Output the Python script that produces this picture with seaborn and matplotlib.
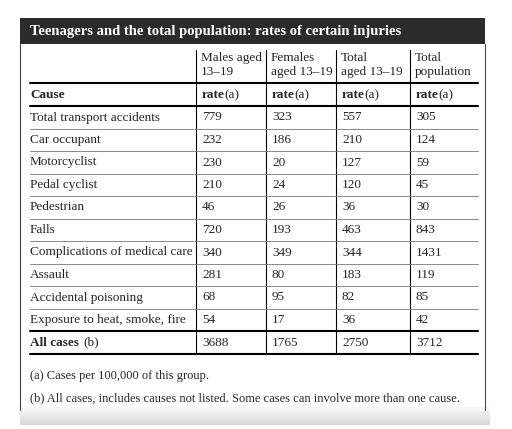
import matplotlib
matplotlib.use("Agg")
import matplotlib.pyplot as plt
import seaborn as sns
import numpy as np

sns.set_theme(style="white")
plt.rcParams['font.family'] = ['Liberation Serif', 'DejaVu Serif']

title = "Teenagers and the total population: rates of certain injuries"
col_heads = [["Males aged", "13–19"], ["Females", "aged 13–19"], ["Total", "aged 13–19"], ["Total", "population"]]
causes = ["Total transport accidents", "Car occupant", "Motorcyclist", "Pedal cyclist", "Pedestrian",
          "Falls", "Complications of medical care", "Assault", "Accidental poisoning",
          "Exposure to heat, smoke, fire"]
males = [779, 232, 230, 210, 46, 720, 340, 281, 68, 54]
females = [323, 186, 20, 24, 26, 193, 349, 80, 95, 17]
total_teen = [557, 210, 127, 120, 36, 463, 344, 183, 82, 36]
total_pop = [305, 124, 59, 45, 30, 843, 1431, 119, 85, 42]
all_cases = [3688, 1765, 2750, 3712]
notes = ["(a) Cases per 100,000 of this group.",
         "(b) All cases, includes causes not listed. Some cases can involve more than one cause."]

fig = plt.figure(figsize=(5.12, 4.29), dpi=100)
ax = fig.add_axes([0, 0, 1, 1])
ax.set_xlim(0, 512); ax.set_ylim(429, 0); ax.axis("off")

# shadow band bottom
for i, a in enumerate(np.linspace(0.05, 0.3, 18)):
    ax.axhspan(407 + i, 408 + i, xmin=20/512, xmax=490/512, color="gray", alpha=a, lw=0)
ax.add_patch(plt.Rectangle((20, 18), 465, 26, color="#2b2b2b", lw=0))
ax.text(30, 31, title, color="white", fontsize=10.5, fontweight="bold", va="center")
ax.plot([20, 20], [44, 410], color="#444", lw=0.8)
ax.plot([485, 485], [44, 410], color="#444", lw=0.8)

fs = 9.5
cols = [196, 266, 336, 410]
for x in cols:
    ax.plot([x, x], [50, 353], color="black", lw=0.8)
for j, (a, b) in enumerate(col_heads):
    ax.text(cols[j] + 5, 58, a, fontsize=fs, va="center")
    ax.text(cols[j] + 5, 72, b, fontsize=fs, va="center")
ax.plot([30, 478], [83, 83], color="black", lw=1.5)
ax.text(30, 95, "Cause", fontsize=fs, fontweight="bold", va="center")
for j in range(4):
    ax.text(cols[j] + 6, 95, "rate", fontsize=fs, fontweight="bold", va="center")
    ax.text(cols[j] + 6 + 22, 95, "(a)", fontsize=fs, va="center")
ax.plot([30, 478], [106, 106], color="black", lw=1.5)

step = 22.5
for i, c in enumerate(causes):
    y = 117.5 + i * step
    ax.text(30, y, c, fontsize=fs, va="center")
    for j, v in enumerate([males[i], females[i], total_teen[i], total_pop[i]]):
        ax.text(cols[j] + 6, y, str(v), fontsize=fs, va="center")
    if i < len(causes) - 1:
        ax.plot([30, 478], [y + 11.25, y + 11.25], color="#777", lw=0.6)
ya = 117.5 + len(causes) * step
ax.plot([30, 478], [ya - 11.25] * 2, color="black", lw=1.5)
ax.text(30, ya, "All cases", fontsize=fs, fontweight="bold", va="center")
ax.text(83, ya, "(b)", fontsize=fs, va="center")
for j, v in enumerate(all_cases):
    ax.text(cols[j] + 6, ya, str(v), fontsize=fs, va="center")
ax.plot([30, 478], [ya + 11.25] * 2, color="black", lw=1.5)
ax.text(30, 376, notes[0], fontsize=9, va="center")
ax.text(30, 398, notes[1], fontsize=9, va="center")

fig.savefig("out.png", dpi=100)
